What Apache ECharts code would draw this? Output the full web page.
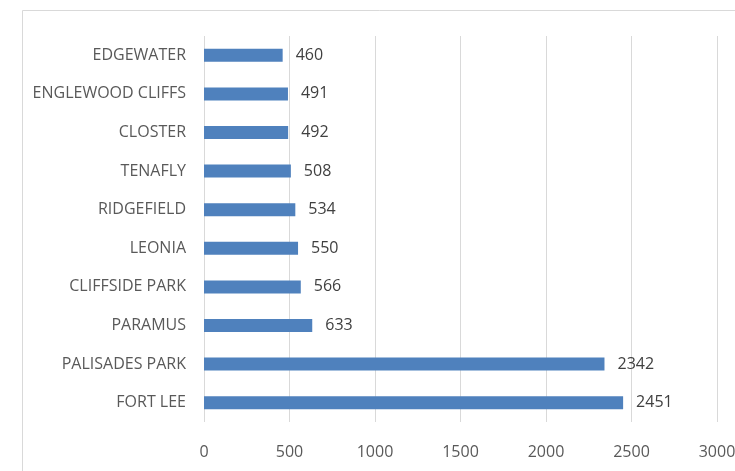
<!DOCTYPE html>
<html>
<head>
<meta charset="utf-8">
<script src="https://cdn.jsdelivr.net/npm/echarts@6/dist/echarts.min.js"></script>
<style>
  html, body { margin: 0; padding: 0; background: #fff; }
  #chart { width: 735px; height: 471px; }
</style>
</head>
<body>
<div id="chart"></div>
<script>
// towns, bottom to top as drawn
var towns = ['FORT LEE', 'PALISADES PARK', 'PARAMUS', 'CLIFFSIDE PARK', 'LEONIA',
             'RIDGEFIELD', 'TENAFLY', 'CLOSTER', 'ENGLEWOOD CLIFFS', 'EDGEWATER'];
var counts = [2451, 2342, 633, 566, 550, 534, 508, 492, 491, 460];
var xTicks = [0, 500, 1000, 1500, 2000, 2500, 3000];

var font = '"Liberation Sans Narrow", "Open Sans", sans-serif';
var myChart = echarts.init(document.getElementById('chart'));

var option = {
    backgroundColor: '#fff',
    animation: false,
    graphic: [
        {
            type: 'rect',
            shape: { x: 22.5, y: 10.5, width: 800, height: 600 },
            style: { fill: 'none', stroke: '#d9d9d9', lineWidth: 1 },
            silent: true
        }
    ],
    grid: { left: 204, right: 18, top: 36, bottom: 49, outerBoundsMode: 'none', containLabel: false },
    xAxis: {
        type: 'value',
        min: xTicks[0],
        max: xTicks[xTicks.length - 1],
        interval: 500,
        axisLine: { show: false },
        axisTick: { show: false },
        splitLine: { show: true, lineStyle: { color: '#d9d9d9', width: 1 } },
        axisLabel: {
            color: '#595959', fontSize: 16, fontFamily: font, margin: 22,
            formatter: function (v) { return String(v); }
        }
    },
    yAxis: {
        type: 'category',
        data: towns,
        axisLine: { show: false },
        axisTick: { show: false },
        axisLabel: { color: '#595959', fontSize: 16, fontFamily: font, margin: 18 }
    },
    series: [
        {
            type: 'bar',
            data: counts,
            barWidth: 13,
            itemStyle: { color: '#4f81bd' },
            label: {
                show: true,
                position: 'right',
                distance: 13,
                color: '#404040',
                fontSize: 16,
                fontFamily: font
            }
        }
    ]
};

myChart.setOption(option);
</script>
</body>
</html>
